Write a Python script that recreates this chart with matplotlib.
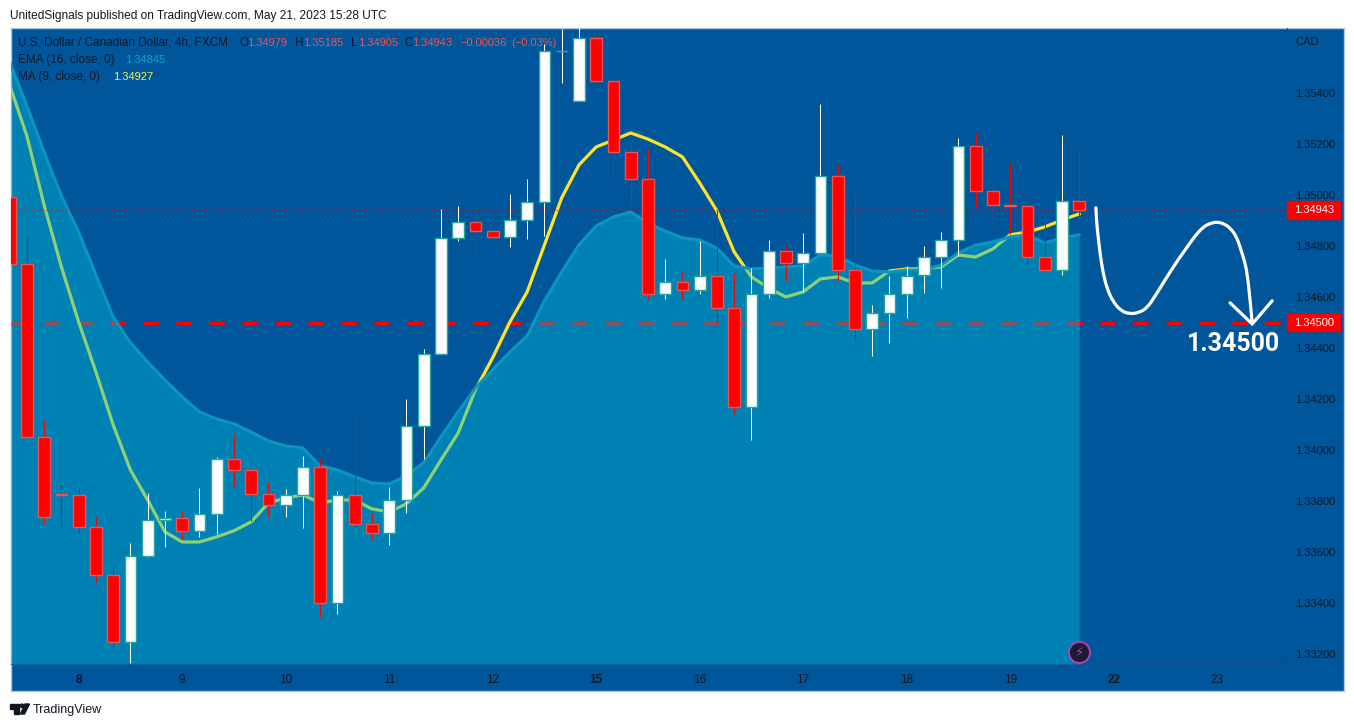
import matplotlib
matplotlib.use("Agg")
import matplotlib.pyplot as plt
import numpy as np
from matplotlib.patches import Circle, PathPatch, Polygon, Rectangle
from matplotlib.path import Path

plt.rcParams["font.family"] = ["Liberation Sans", "DejaVu Sans"]

# USD/CAD 4h candles, oldest first
opens = [1.34994, 1.34731, 1.34052, 1.33826, 1.33822, 1.33698, 1.33510, 1.33247, 1.33583, 1.33726,
         1.33735, 1.33683, 1.33747, 1.33963, 1.33920, 1.33826, 1.33785, 1.33822, 1.33932, 1.33400,
         1.33822, 1.33708, 1.33673, 1.33802, 1.34094, 1.34376, 1.34832, 1.34894, 1.34861, 1.34838,
         1.34902, 1.34975, 1.35566, 1.35369, 1.35617, 1.35448, 1.35172, 1.35063, 1.34612, 1.34659,
         1.34627, 1.34685, 1.34557, 1.34168, 1.34612, 1.34783, 1.34733, 1.34773, 1.35075, 1.34706,
         1.34476, 1.34540, 1.34614, 1.34686, 1.34757, 1.34824, 1.35193, 1.35016, 1.34962, 1.34957,
         1.34757, 1.34706, 1.34979]
highs = [1.34994, 1.34841, 1.34118, 1.33871, 1.33859, 1.33738, 1.33549, 1.33636, 1.33832, 1.33761,
         1.33761, 1.33851, 1.33973, 1.34063, 1.33926, 1.33875, 1.33847, 1.33977, 1.33965, 1.33840,
         1.34146, 1.33753, 1.33855, 1.34201, 1.34397, 1.34947, 1.34958, 1.34958, 1.34930, 1.35006,
         1.35064, 1.35594, 1.35653, 1.35673, 1.35630, 1.35469, 1.35211, 1.35181, 1.34750, 1.34700,
         1.34821, 1.34943, 1.34694, 1.34714, 1.34825, 1.34801, 1.34851, 1.35359, 1.35119, 1.35013,
         1.34570, 1.34684, 1.34723, 1.34801, 1.34855, 1.35224, 1.35244, 1.35048, 1.35126, 1.34978,
         1.34943, 1.35237, 1.35185]
lows = [1.34731, 1.34052, 1.33710, 1.33698, 1.33675, 1.33482, 1.33219, 1.33165, 1.33579, 1.33620,
        1.33651, 1.33659, 1.33671, 1.33855, 1.33722, 1.33738, 1.33738, 1.33694, 1.33345, 1.33357,
        1.33698, 1.33647, 1.33628, 1.33751, 1.33965, 1.34376, 1.34822, 1.34775, 1.34825, 1.34799,
        1.34830, 1.34841, 1.35442, 1.35369, 1.35448, 1.35054, 1.34956, 1.34593, 1.34593, 1.34593,
        1.34614, 1.34495, 1.34143, 1.34041, 1.34598, 1.34665, 1.34622, 1.34772, 1.34663, 1.34427,
        1.34371, 1.34422, 1.34520, 1.34618, 1.34638, 1.34763, 1.34953, 1.34867, 1.34848, 1.34730,
        1.34700, 1.34688, 1.34905]
closes = [1.34731, 1.34052, 1.33738, 1.33822, 1.33698, 1.33510, 1.33247, 1.33583, 1.33724, 1.33735,
          1.33683, 1.33747, 1.33963, 1.33920, 1.33826, 1.33785, 1.33822, 1.33932, 1.33400, 1.33822,
          1.33708, 1.33673, 1.33802, 1.34094, 1.34376, 1.34832, 1.34894, 1.34861, 1.34838, 1.34902,
          1.34975, 1.35566, 1.35566, 1.35617, 1.35448, 1.35172, 1.35063, 1.34612, 1.34659, 1.34627,
          1.34685, 1.34557, 1.34168, 1.34612, 1.34783, 1.34733, 1.34773, 1.35075, 1.34706, 1.34476,
          1.34540, 1.34614, 1.34685, 1.34757, 1.34824, 1.35193, 1.35016, 1.34961, 1.34958, 1.34757,
          1.34706, 1.34977, 1.34943]

ema_16 = [1.35524, 1.35351, 1.35170, 1.34998, 1.34856, 1.34688, 1.34523, 1.34421, 1.34346, 1.34275,
          1.34209, 1.34150, 1.34122, 1.34103, 1.34071, 1.34036, 1.34016, 1.34008, 1.33938, 1.33922,
          1.33895, 1.33871, 1.33867, 1.33899, 1.33950, 1.34052, 1.34150, 1.34244, 1.34315, 1.34385,
          1.34448, 1.34586, 1.34699, 1.34805, 1.34880, 1.34915, 1.34935, 1.34892, 1.34860, 1.34833,
          1.34825, 1.34793, 1.34723, 1.34711, 1.34715, 1.34719, 1.34723, 1.34766, 1.34762, 1.34727,
          1.34703, 1.34699, 1.34707, 1.34707, 1.34727, 1.34774, 1.34805, 1.34817, 1.34837, 1.34845,
          1.34813, 1.34833, 1.34845]
ma_9 = [1.35433, 1.35233, 1.34962, 1.34719, 1.34503, 1.34307, 1.34099, 1.33922, 1.33804, 1.33679,
        1.33639, 1.33639, 1.33659, 1.33683, 1.33718, 1.33792, 1.33812, 1.33824, 1.33792, 1.33804,
        1.33804, 1.33769, 1.33757, 1.33789, 1.33851, 1.33961, 1.34067, 1.34236, 1.34362, 1.34503,
        1.34621, 1.34805, 1.34990, 1.35119, 1.35190, 1.35217, 1.35245, 1.35221, 1.35190, 1.35151,
        1.35049, 1.34939, 1.34778, 1.34680, 1.34636, 1.34601, 1.34621, 1.34672, 1.34680, 1.34656,
        1.34656, 1.34703, 1.34711, 1.34711, 1.34719, 1.34766, 1.34758, 1.34790, 1.34845, 1.34856,
        1.34876, 1.34903, 1.34927]

last_price = 1.34943
target_price = 1.34500

day_ticks = [4, 10, 16, 22, 28, 34, 40, 46, 52, 58, 64, 70]
day_labels = ["8", "9", "10", "11", "12", "15", "16", "17", "18", "19", "22", "23"]
bold_days = ["8", "15", "22"]
price_ticks = [1.354, 1.352, 1.350, 1.348, 1.346, 1.344, 1.342, 1.340, 1.338, 1.336, 1.334, 1.332]

# hand drawn forecast curve (bar position, price)
sketch_x = [62.97, 63.01, 63.08, 63.22, 63.39, 63.62, 63.97, 64.43, 64.96, 65.48, 65.94, 66.41, 66.87, 67.57,
            68.26, 68.72, 69.19, 69.59, 70.00, 70.41, 70.75, 71.10, 71.33, 71.57, 71.74, 71.91, 72.03]
sketch_y = [1.34951, 1.34896, 1.34852, 1.34766, 1.34695, 1.34633, 1.34582, 1.34546, 1.34534, 1.34540, 1.34558,
            1.34605, 1.34656, 1.34731, 1.34797, 1.34841, 1.34876, 1.34890, 1.34896, 1.34888, 1.34872, 1.34841,
            1.34797, 1.34746, 1.34695, 1.34589, 1.34499]
head_x = [70.75, 72.03, 73.19]
head_y = [1.34578, 1.34495, 1.34586]

BG = "#00569B"
INK = "#131722"
RED = "#FF0000"
RED_EDGE = "#EF5350"
UP_EDGE = "#26A69A"
W, H = 1354, 727


def px_axes(left, top, right, bottom):
    return [left / W, 1 - bottom / H, (right - left) / W, (bottom - top) / H]


def smooth_path(xs, ys):
    # quadratic segments through the midpoints, so the pen stroke has no corners
    pts = list(zip(xs, ys))
    verts = [pts[0]]
    codes = [Path.MOVETO]
    for a, b in zip(pts[1:-1], pts[2:]):
        verts += [a, ((a[0] + b[0]) / 2, (a[1] + b[1]) / 2)]
        codes += [Path.CURVE3, Path.CURVE3]
    verts.append(pts[-1])
    codes.append(Path.LINETO)
    return Path(verts, codes)


fig = plt.figure(figsize=(W / 100, H / 100), dpi=100, facecolor="white")

# Panel behind the chart
panel = fig.add_axes(px_axes(10.5, 27.5, 1344, 691), zorder=0)
panel.set_facecolor(BG)
panel.set_xticks([])
panel.set_yticks([])
for s in panel.spines.values():
    s.set_color("#B4C6D8")
    s.set_linewidth(1)

ax = fig.add_axes(px_axes(10.5, 27.5, 1286.5, 664), zorder=1)
ax.patch.set_alpha(0)
ax.set_xlim(0.05, 74.02)
ax.set_ylim(1.33160, 1.35659)

x = np.arange(len(opens))
opens = np.array(opens)
closes = np.array(closes)
is_up = closes >= opens

# These sit under the translucent area
ax.axhline(target_price, color=RED, lw=2.2, linestyle=(0, (5, 5.8)), dash_capstyle="butt", zorder=1)
ax.plot(x, ma_9, color="#FFE32B", lw=2.3, zorder=2)
ax.fill_between(x, ema_16, 1.33160, color="#00B9D5", alpha=0.44, lw=0, zorder=3)
ax.plot(x, ema_16, color="#0A96BE", lw=2.2, zorder=4)
ax.axhline(last_price, color=RED, lw=0.8, linestyle=(0, (1, 3.5)), zorder=5)

# Candles
wick_colors = ["white" if up else RED for up in is_up]
ax.vlines(x, lows, highs, colors=wick_colors, lw=0.75, snap=True, zorder=6)
body_low = np.minimum(opens, closes)
body_h = np.abs(closes - opens)
ax.bar(x[is_up], body_h[is_up], bottom=body_low[is_up], width=0.68, color="white",
       edgecolor=UP_EDGE, lw=1.0, zorder=7)
ax.bar(x[~is_up], body_h[~is_up], bottom=body_low[~is_up], width=0.68, color=RED,
       edgecolor=RED_EDGE, lw=1.0, zorder=7)

# Forecast drawing
ax.add_patch(PathPatch(smooth_path(sketch_x, sketch_y), fill=False, edgecolor="white", lw=2.3,
                       capstyle="round", zorder=8))
ax.plot(head_x, head_y, color="white", lw=2.3, solid_capstyle="round", solid_joinstyle="miter", zorder=8)
ax.text(73.65, 1.34417, "1.34500", color="white", fontsize=18, fontweight="bold", family="Roboto",
        ha="right", va="center", zorder=9)

# Axes
ax.yaxis.tick_right()
ax.set_yticks(price_ticks)
ax.set_yticklabels([f"{p:.5f}" for p in price_ticks])
ax.set_xticks(day_ticks)
ax.set_xticklabels(day_labels)
ax.tick_params(axis="y", length=0, pad=6, labelsize=8, labelcolor=INK)
ax.tick_params(axis="x", length=0, pad=7, labelsize=8.5, labelcolor=INK)
for lab in ax.get_xticklabels():
    if lab.get_text() in bold_days:
        lab.set_fontweight("bold")
for name, s in ax.spines.items():
    s.set_visible(name in ("right", "bottom"))
    s.set_color("#0F4F88")
    s.set_linewidth(0.8)

# Price tags on the axis
for p in (last_price, target_price):
    ax.add_patch(Rectangle((1.0, p - 0.00034), 53 / 1276, 0.00068, transform=ax.get_yaxis_transform(),
                           color=RED, clip_on=False, zorder=10))
    ax.text(1 + 28 / 1276, p, f"{p:.5f}", transform=ax.get_yaxis_transform(), color="white",
            fontsize=8, ha="center", va="center", clip_on=False, zorder=11)

# Bolt badge on the last bar
ax.scatter([62], [1.33208], s=230, color="#1B1B30", edgecolor="#A845B5", lw=1.4, zorder=12, clip_on=False)
ax.text(62, 1.33208, "\u26a1", color="#A845B5", fontsize=9.5, family="DejaVu Sans",
        ha="center", va="center", zorder=13)

# Texts placed in page pixels
page = fig.add_axes([0, 0, 1, 1], zorder=2)
page.set_xlim(0, W)
page.set_ylim(H, 0)
page.axis("off")


def label(px, py, s, color=INK, size=8.5):
    # py is the baseline, so mixed strings on one row line up
    page.text(px, py, s, color=color, fontsize=size, ha="left", va="baseline")


label(10, 18.5, "UnitedSignals published on TradingView.com, May 21, 2023 15:28 UTC", size=8.6)
label(18, 45.5, "U.S. Dollar / Canadian Dollar, 4h, FXCM")
label(239, 45.5, "O")
label(247, 45.5, "1.34979", RED_EDGE, 8)
label(295, 45.5, "H")
label(303, 45.5, "1.35185", RED_EDGE, 8)
label(351, 45.5, "L")
label(358, 45.5, "1.34905", RED_EDGE, 8)
label(404, 45.5, "C")
label(412, 45.5, "1.34943", RED_EDGE, 8)
label(460, 45.5, "\u22120.00036", RED_EDGE, 8)
label(511, 45.5, "(\u22120.03%)", RED_EDGE, 8)
label(18, 63, "EMA (16, close, 0)")
label(125, 63, "1.34845", "#0BA5C9", 8)
label(18, 80, "MA (9, close, 0)")
label(113, 80, "1.34927", "#FFF03B", 8)
label(1295, 45, "CAD", size=8)
label(33, 713.5, "TradingView", size=9)

# TradingView mark
page.add_patch(Polygon([(10, 704), (18.5, 704), (18.5, 714), (14, 714), (14, 708.5), (10, 708.5)], color=INK))
page.add_patch(Circle((22, 705.8), 1.7, color=INK))
page.add_patch(Polygon([(25, 704), (29.5, 704), (24.5, 714), (20.5, 714)], color=INK))

fig.savefig("out.png", dpi=100)
